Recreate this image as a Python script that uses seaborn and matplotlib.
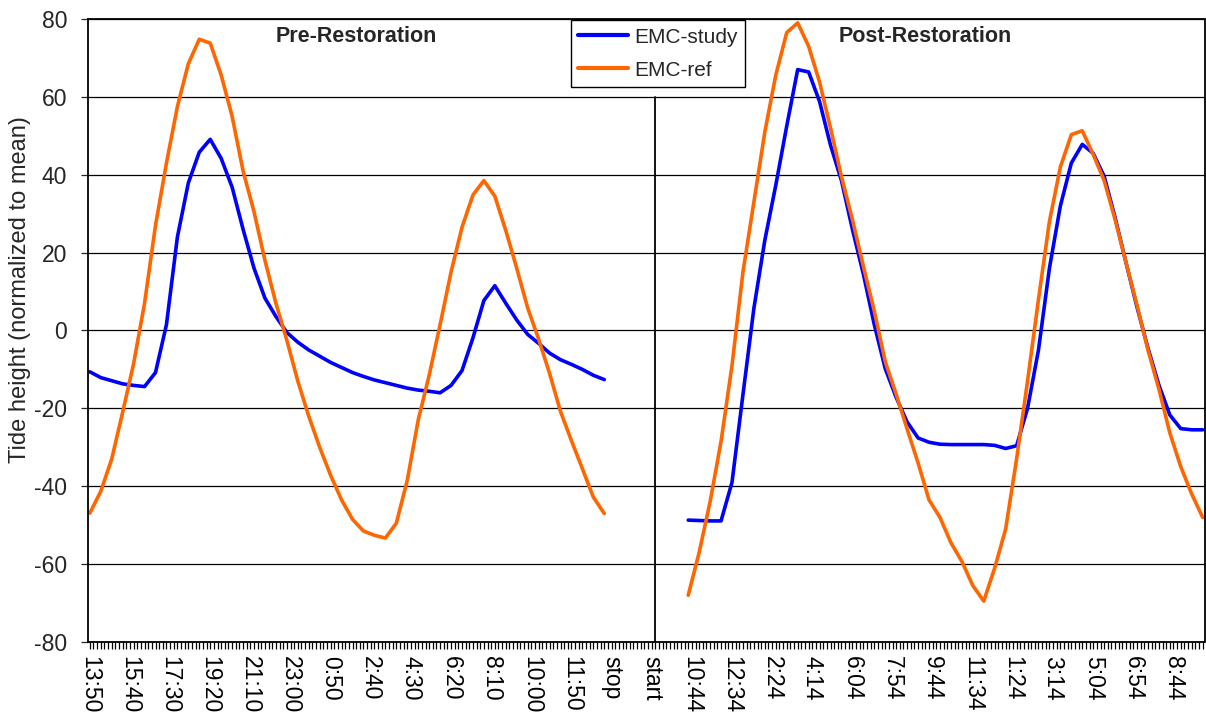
import numpy as np
import pandas as pd
import matplotlib
matplotlib.use('Agg')
import matplotlib.pyplot as plt
import seaborn as sns

# x axis: one category every 10 minutes, a label every 11 categories
tick_labels = ['13:50', '15:40', '17:30', '19:20', '21:10', '23:00', '0:50', '2:40',
               '4:30', '6:20', '8:10', '10:00', '11:50', 'stop', 'start', '10:44',
               '12:34', '2:24', '4:14', '6:04', '7:54', '9:44', '11:34', '1:24',
               '3:14', '5:04', '6:54', '8:44']
n_categories = 306
label_every = 11
step = 3  # values read every 3rd category (30 min)

# pre-restoration run starts at category 0
pre_start = 0
pre_study = [-10.6, -12.1, -12.9, -13.7, -14.1, -14.4, -10.8, 1.5, 24, 37.9,
             45.8, 49.1, 44.2, 36.8, 26, 16, 8.3, 3.6, -0.5, -3,
             -5, -6.6, -8.2, -9.5, -10.8, -11.8, -12.7, -13.4, -14.1, -14.8,
             -15.3, -15.6, -16, -14.1, -10.3, -1.9, 7.7, 11.5, 7, 2.7,
             -1, -3.3, -5.8, -7.5, -8.7, -10, -11.5, -12.6]
pre_ref = [-46.9, -41.3, -33, -21, -8.5, 7, 27, 43, 57.5, 68.5,
           74.8, 73.8, 65.6, 55, 41, 30.5, 18, 7, -2.5, -13,
           -22, -30, -37.2, -43.5, -48.5, -51.5, -52.6, -53.3, -49.5, -38.5,
           -23, -11.5, 1.5, 15, 26.5, 34.8, 38.5, 34.5, 25.7, 16,
           5.8, -2.2, -11, -20.8, -28.3, -35.5, -42.8, -47]

# post-restoration run
post_start = 164
post_study = [-48.7, -48.8, -48.9, -48.9, -39, -16.5, 5.7, 23.2, 37.3, 52.5,
              67, 66.4, 58.8, 47.6, 38.5, 26, 14.5, 1.5, -9.8, -17.2,
              -23.5, -27.6, -28.7, -29.2, -29.3, -29.3, -29.3, -29.3, -29.5, -30.3,
              -29.6, -20, -5, 16, 32, 43, 47.8, 45.5, 39.6, 29,
              17.4, 6, -4.5, -14, -21.7, -25.2, -25.5, -25.5]
post_ref = [-68, -57, -44, -28.5, -9, 15, 33, 51, 65.6, 76.5,
            79, 73, 63.8, 52, 39.5, 28.5, 16.5, 5, -8, -16.4,
            -25.3, -34, -43.5, -48, -54.5, -59.3, -65.5, -69.5, -61, -51,
            -33, -13, 8, 28, 42, 50.3, 51.3, 45.2, 38.5, 28.5,
            17.4, 6.5, -5, -15, -26.3, -35, -42, -48]

divider_at = 155

rows = []
for seg, start, study, ref in [('pre', pre_start, pre_study, pre_ref),
                               ('post', post_start, post_study, post_ref)]:
    idx = start + step * np.arange(len(study))
    for name, vals in [('EMC-study', study), ('EMC-ref', ref)]:
        rows.append(pd.DataFrame({'idx': idx, 'value': vals, 'series': name, 'segment': seg}))
df = pd.concat(rows, ignore_index=True)

sns.set_style('white')
plt.rcParams['font.family'] = ['Liberation Sans', 'DejaVu Sans']
plt.rcParams['axes.unicode_minus'] = False

fig = plt.figure(figsize=(12.06, 7.15), dpi=100)
ax = fig.add_axes([88 / 1206, 1 - 642 / 715, 1116.5 / 1206, 623 / 715])

sns.lineplot(data=df, x='idx', y='value', hue='series', units='segment', estimator=None,
             hue_order=['EMC-study', 'EMC-ref'],
             palette={'EMC-study': '#0000FF', 'EMC-ref': '#FF6600'},
             linewidth=2.6, sort=False, ax=ax)

ax.set_xlim(-0.5, n_categories - 0.5)
ax.set_ylim(-80, 80)
ax.set_yticks(np.arange(-80, 81, 20))
ax.yaxis.grid(True, color='black', linewidth=0.9)
ax.set_axisbelow(True)

ax.set_xticks(np.arange(0, len(tick_labels) * label_every, label_every))
ax.set_xticklabels(tick_labels, rotation=-90, va='top', ha='center')
ax.set_xticks(np.arange(0, n_categories), minor=True)
ax.tick_params(axis='x', which='both', direction='out', length=5, width=0.9,
               colors='black', labelsize=16.5, pad=5, bottom=True)
ax.tick_params(axis='y', direction='out', length=5, width=0.9, labelsize=16.5, pad=10, left=True)

for s in ax.spines.values():
    s.set_color('black')
    s.set_linewidth(1.3)

ax.axvline(divider_at, ymin=0, ymax=(60 + 80) / 160, color='black', linewidth=1.3)

ax.text(73, 75.5, 'Pre-Restoration', ha='center', va='center', fontsize=15.5, fontweight='bold')
ax.text(229, 75.5, 'Post-Restoration', ha='center', va='center', fontsize=15.5, fontweight='bold')

ax.set_xlabel('')
ax.set_ylabel('Tide height (normalized to mean)', fontsize=17)
ax.yaxis.set_label_coords(-0.051, 0.565)

handles, labels = ax.get_legend_handles_labels()
leg = ax.legend(handles, labels, loc='upper left', bbox_to_anchor=(0.4325, 0.998),
                borderaxespad=0, fontsize=15, frameon=True, fancybox=False,
                edgecolor='black', framealpha=1, handlelength=2.4, handletextpad=0.3,
                labelspacing=0.68, borderpad=0.35)
leg.get_frame().set_linewidth(1.0)
for line in leg.get_lines():
    line.set_linewidth(3)

fig.savefig('out.png', dpi=100)
